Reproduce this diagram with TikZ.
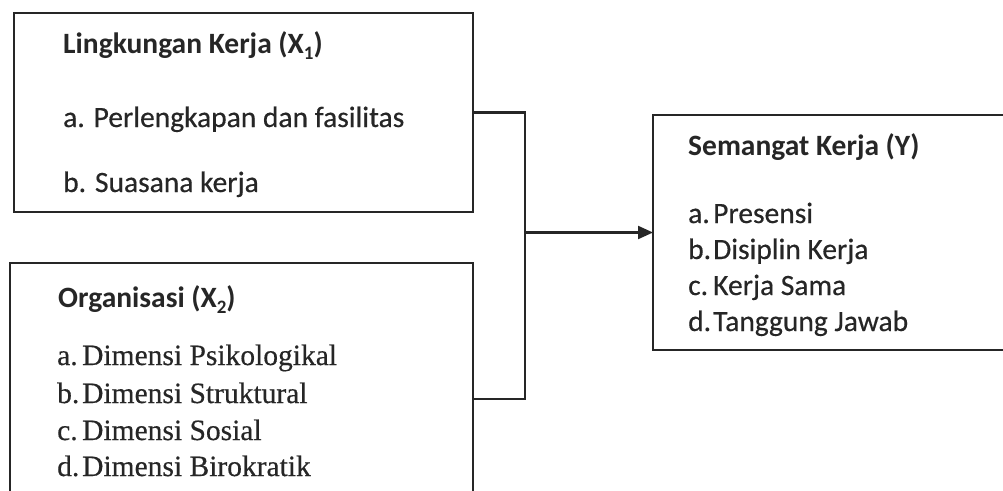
\documentclass[tikz,border=0pt]{standalone}
\usepackage{fontspec}
\setmainfont[FakeBold=0.4]{Liberation Serif}
\newfontfamily\calfont[FakeBold=0.4]{Carlito}
\newfontfamily\calbold{Carlito Bold}
\usetikzlibrary{arrows.meta}
\definecolor{ink}{HTML}{262626}
\tikzset{
  boxframe/.style={draw=ink, line width=2.4pt, rectangle, anchor=north west, inner sep=0pt, outer sep=0pt},
  conn/.style={draw=ink, line width=2.2pt},
  sanstxt/.style={anchor=base west, inner sep=0pt, text=ink, font=\calfont\fontsize{29.5}{36}\selectfont},
  boldtxt/.style={anchor=base west, inner sep=0pt, text=ink, font=\calbold\fontsize{29.5}{36}\selectfont},
  seriftxt/.style={anchor=base west, inner sep=0pt, text=ink, font=\rmfamily\fontsize{29.5}{36}\selectfont},
}
\newcommand{\lbl}[1]{\makebox[25pt][l]{#1}}
\newcommand{\sbs}[1]{\raisebox{-0.22em}{\fontsize{19}{20}\selectfont #1}}
\begin{document}
\begin{tikzpicture}[x=1pt,y=-1pt]
\clip (0,0) rectangle (1003,490);
\fill[white] (0,0) rectangle (1003,490);
% boxes
\node[boxframe, minimum width=459pt, minimum height=199pt] (box1) at (14,13) {};
\node[boxframe, minimum width=463pt, minimum height=272pt] (box2) at (10,263) {};
\node[boxframe, minimum width=380pt, minimum height=235pt] (box3) at (653,115) {};
% box 1 text
\node[boldtxt] (t1) at (63,53) {Lingkungan Kerja (X\sbs{1})};
\node[sanstxt] (t1a) at (63,127) {a. Perlengkapan dan fasilitas};
\node[sanstxt] (t1b) at (63,192) {b. Suasana kerja};
% box 2 text
\node[boldtxt] (t2) at (58,307) {Organisasi (X\sbs{2})};
\node[seriftxt] (t2a) at (57,365) {\lbl{a.}Dimensi Psikologikal};
\node[seriftxt] (t2b) at (57,403) {\lbl{b.}Dimensi Struktural};
\node[seriftxt] (t2c) at (57,440) {\lbl{c.}Dimensi Sosial};
\node[seriftxt] (t2d) at (57,476) {\lbl{d.}Dimensi Birokratik};
% box 3 text
\node[boldtxt] (t3) at (688,155) {Semangat Kerja (Y)};
\node[sanstxt] (t3a) at (688,223) {\lbl{a.}Presensi};
\node[sanstxt] (t3b) at (688,259) {\lbl{b.}Disiplin Kerja};
\node[sanstxt] (t3c) at (688,295) {\lbl{c.}Kerja Sama};
\node[sanstxt] (t3d) at (688,331) {\lbl{d.}Tanggung Jawab};
% connectors
\coordinate (fork) at (525,232.5);
\draw[conn] (box1.east) -| (fork);
\draw[conn] (box2.east) -| (fork);
\draw[conn, -{Triangle[length=15pt,width=13pt]}] (fork) -- (box3.west);
\end{tikzpicture}
\end{document}
